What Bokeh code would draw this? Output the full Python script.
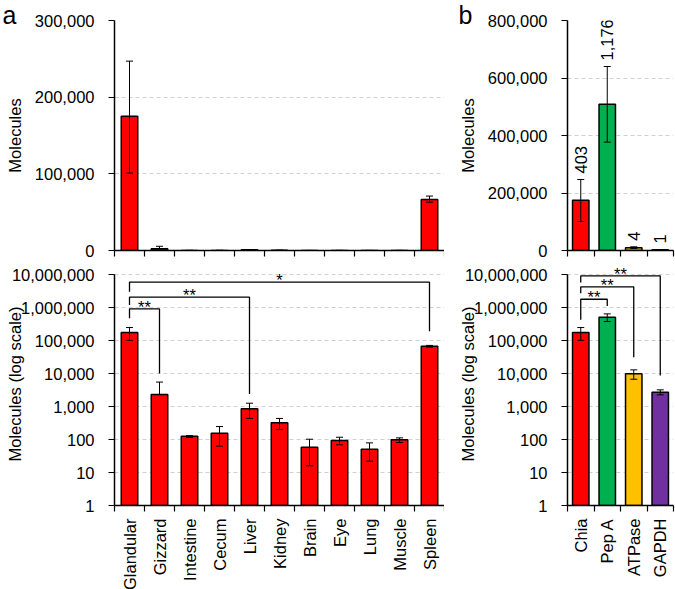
import math
from bokeh.plotting import figure
from bokeh.models import (Range1d, FixedTicker, NumeralTickFormatter, Whisker, TeeHead,
                          ColumnDataSource, Label)
from bokeh.layouts import row, column
from bokeh.embed import file_html
from bokeh.resources import INLINE
from bokeh.core.properties import value

FONT = "Liberation Sans"
FS = "16.5px"

# ---------------- data ----------------
tissues = ["Glandular", "Gizzard", "Intestine", "Cecum", "Liver", "Kidney",
           "Brain", "Eye", "Lung", "Muscle", "Spleen"]
tissue_mean = [175000, 2300, 125, 155, 850, 320, 58, 93, 51, 98, 66500]
tissue_lo = [101000, 2300, 115, 63, 435, 200, 16, 69, 22, 81, 63000]
tissue_hi = [247000, 5500, 131, 247, 1260, 435, 102, 117, 79, 112, 71000]

genes = ["Chia", "Pep A", "ATPase", "GAPDH"]
gene_mean = [175000, 509000, 9800, 2700]
gene_lo = [101000, 377000, 6700, 2250]
gene_hi = [247000, 640000, 12900, 3200]
gene_colors = ["#FF0000", "#00B050", "#FFC000", "#7030A0"]
gene_counts = ["403", "1,176", "4", "1"]

a_lin_ticks = [0, 100000, 200000, 300000]
b_lin_ticks = [0, 200000, 400000, 600000, 800000]
log_ticks = [1, 10, 100, 1000, 10000, 100000, 1000000, 10000000]

# significance brackets (from first bar to bar index)
a_sig_to = [1, 4, 10]
a_sig_y = [910000, 2050000, 5900000]
a_sig_left_bottom = [475000, 1200000, 3000000]
a_sig_right_bottom = [10000, 2400, 190000]
a_sig_text = ["**", "**", "*"]

b_sig_to = [1, 2, 3]
b_sig_y = [1780000, 4240000, 9100000]
b_sig_left_bottom = [425000, 2700000, 5700000]
b_sig_right_bottom = [1120000, 31000, 8700]
b_sig_text = ["**", "**", "**"]

FW_A, FW_B = 330, 106
FH_T, FH_B = 230, 231
DEC = FH_B / 7.0           # pixels per decade on the log panels
HEAD = 12                  # extra headroom (px) above 10,000,000 for the stars


def make_fig(names, frame_w, frame_h, left, right, top, bottom, y_range, log,
             ylabel, label_standoff, show_names, letter=None, letter_offset=0):
    n = len(names)
    kw = dict(frame_width=frame_w, frame_height=frame_h, min_border_left=left,
              min_border_right=right, min_border_top=top, min_border_bottom=bottom,
              x_range=Range1d(0, n), y_range=y_range, output_backend="svg",
              toolbar_location=None, background_fill_color="white",
              border_fill_color="white")
    if log:
        kw["y_axis_type"] = "log"
    if letter:
        kw["title"] = letter
    p = figure(**kw)
    if letter:
        p.title.align = "left"
        p.title.offset = letter_offset
        p.title.standoff = -16
        p.title.vertical_align = "bottom"
        p.title.text_font = FONT
        p.title.text_font_size = "25px"
        p.title.text_font_style = "normal"
        p.title.text_color = "black"
    p.outline_line_color = None
    p.xgrid.visible = False
    for ax in p.axis:
        ax.axis_line_color = "black"
        ax.axis_line_width = 1.5
        ax.major_label_text_font = FONT
        ax.major_label_text_font_size = FS
        ax.major_label_text_color = "black"
        ax.minor_tick_line_color = "black"
        ax.major_tick_line_color = "black"
        ax.major_tick_line_width = 1.2
        ax.minor_tick_line_width = 1.2
    p.ygrid.grid_line_color = "#d0d0d0"
    p.ygrid.grid_line_dash = "4 3"
    p.ygrid.grid_line_width = 1
    yt = log_ticks if log else (a_lin_ticks if n == len(tissues) else b_lin_ticks)
    p.yaxis.ticker = FixedTicker(ticks=yt)
    p.ygrid.ticker = FixedTicker(ticks=yt)
    p.yaxis.bounds = (yt[0], yt[-1])
    p.yaxis.major_tick_out = 6
    p.yaxis.major_tick_in = 0
    p.yaxis.minor_tick_out = 0
    p.yaxis.minor_tick_in = 0
    p.yaxis.major_label_standoff = 14
    p.yaxis.formatter = NumeralTickFormatter(format="0,0")
    p.yaxis.axis_label = ylabel
    p.yaxis.axis_label_text_font = FONT
    p.yaxis.axis_label_text_font_size = FS
    p.yaxis.axis_label_text_font_style = "normal"
    p.yaxis.axis_label_text_color = "black"
    p.yaxis.axis_label_standoff = label_standoff

    centers = [i + 0.5 for i in range(n)]
    bounds = list(range(n + 1))
    if show_names:
        p.xaxis.ticker = FixedTicker(ticks=centers, minor_ticks=bounds)
        p.xaxis.major_label_overrides = {c: nm for c, nm in zip(centers, names)}
        p.xaxis.major_label_orientation = math.pi / 2
        p.xaxis.major_label_standoff = 7
    else:
        p.xaxis.ticker = FixedTicker(ticks=[], minor_ticks=bounds)
        p.xaxis.major_label_text_font_size = "0px"
    p.xaxis.major_tick_out = 0
    p.xaxis.major_tick_in = 0
    p.xaxis.minor_tick_out = 6
    p.xaxis.minor_tick_in = 0
    return p


def add_bars(p, names, means, lo, hi, colors, width, bottom):
    centers = [i + 0.5 for i in range(len(names))]
    src = ColumnDataSource(dict(x=centers, top=means, lo=lo, hi=hi, color=colors))
    p.vbar(x="x", top="top", bottom=bottom, width=width, source=src,
           fill_color="color", line_color="black", line_width=1.5)
    w = Whisker(base="x", lower="lo", upper="hi", source=src, line_color="black",
                line_width=1, level="annotation",
                upper_head=TeeHead(size=7, line_color="black", line_width=1),
                lower_head=TeeHead(size=7, line_color="black", line_width=1))
    p.add_layout(w)
    return centers


def add_brackets(p, to_idx, ys, lb, rb, texts):
    xs_l, ys_l = [], []
    for t, y, l, r, s in zip(to_idx, ys, lb, rb, texts):
        x0, x1 = 0.5, t + 0.5
        xs_l.append([x0, x0, x1, x1])
        ys_l.append([l, y, y, r])
        p.add_layout(Label(x=(x0 + x1) / 2, y=y, text=s, text_align="center",
                           text_baseline="middle", y_offset=2, level="overlay",
                           text_font=FONT, text_font_size=FS, text_color="black"))
    p.multi_line(xs=xs_l, ys=ys_l, line_color="black", line_width=1.3)


nA, nB = len(tissues), len(genes)
log_range_top = 10 ** (7 + HEAD / DEC)

# ---------------- panel a ----------------
a_top = make_fig(tissues, FW_A, FH_T, 114, 0, 20, 12, Range1d(0, 300000), False,
                 "Molecules", 8, False, letter="a", letter_offset=-112)
add_bars(a_top, tissues, tissue_mean, tissue_lo, tissue_hi, ["#FF0000"] * nA, 0.55, 0)

a_bot = make_fig(tissues, FW_A, FH_B + HEAD, 114, 0, 0, 82, Range1d(1, log_range_top), True,
                 "Molecules (log scale)", -15, True)
add_bars(a_bot, tissues, tissue_mean, tissue_lo, tissue_hi, ["#FF0000"] * nA, 0.55, 1)
add_brackets(a_bot, a_sig_to, a_sig_y, a_sig_left_bottom, a_sig_right_bottom, a_sig_text)

# ---------------- panel b ----------------
b_top = make_fig(genes, FW_B, FH_T, 123, 2, 20, 12, Range1d(0, 800000), False,
                 "Molecules", 8, False, letter="b", letter_offset=-109)
cb = add_bars(b_top, genes, gene_mean, gene_lo, gene_hi, gene_colors, 0.62, 0)
b_top.text(x=cb, y=gene_hi, text=gene_counts, angle=math.pi / 2, text_align="left",
           text_baseline="middle", y_offset=-6, text_font=value(FONT),
           text_font_size=FS, text_color="black")

b_bot = make_fig(genes, FW_B, FH_B + HEAD, 123, 2, 0, 82, Range1d(1, log_range_top), True,
                 "Molecules (log scale)", -15, True)
add_bars(b_bot, genes, gene_mean, gene_lo, gene_hi, gene_colors, 0.62, 1)
add_brackets(b_bot, b_sig_to, b_sig_y, b_sig_left_bottom, b_sig_right_bottom, b_sig_text)

layout = row(column(a_top, a_bot), column(b_top, b_bot))
open("out.html", "w").write(file_html(layout, INLINE))
